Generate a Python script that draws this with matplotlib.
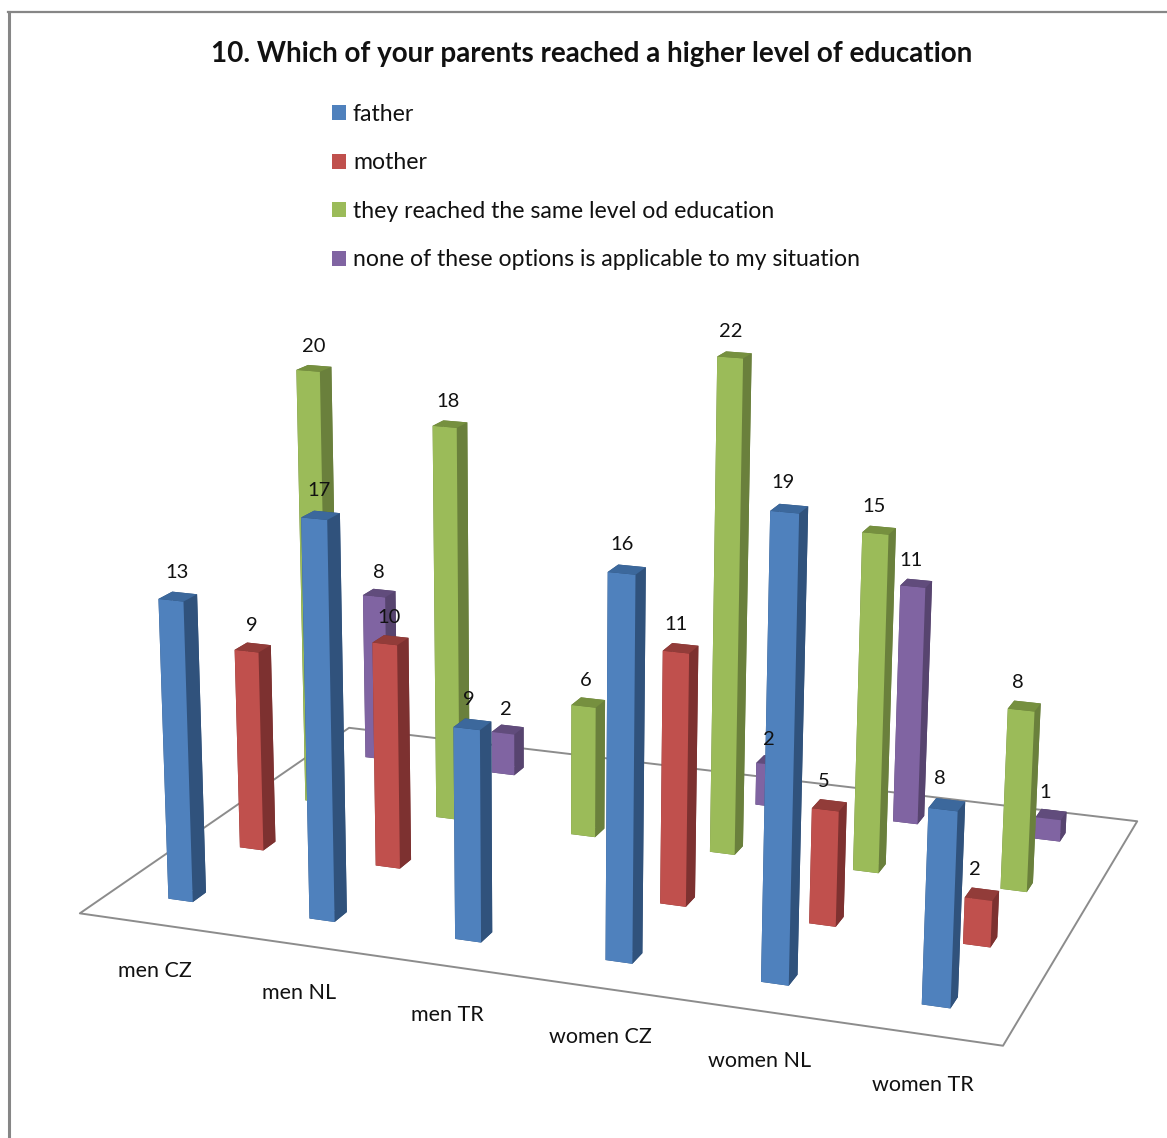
import matplotlib
matplotlib.use("Agg")
import matplotlib.pyplot as plt
from matplotlib.lines import Line2D
from matplotlib.patches import Patch
from mpl_toolkits.mplot3d.art3d import Poly3DCollection
from mpl_toolkits.mplot3d import proj3d
import numpy as np

categories = ["men CZ", "men NL", "men TR", "women CZ", "women NL", "women TR"]
series_names = ["father", "mother", "they reached the same level od education",
                "none of these options is applicable to my situation"]
father = [13, 17, 9, 16, 19, 8]
mother = [9, 10, 0, 11, 5, 2]
same = [20, 18, 6, 22, 15, 8]
none = [8, 2, 0, 2, 11, 1]
title = "10. Which of your parents reached a higher level of education"

W, H = 1167, 1138
front_cols = ["#4F81BD", "#C0504D", "#9BBB59", "#8064A2"]
side_cols = ["#30527C", "#7D3130", "#6A803C", "#57446F"]
top_cols = ["#3C689C", "#923C39", "#76903F", "#614C7C"]

plt.rcParams["font.family"] = ["Lato", "DejaVu Sans"]
fig = plt.figure(figsize=(W / 100, H / 100), dpi=100, facecolor="white")

# chart-area border: left and top only
fig.add_artist(Line2D([9 / W, 9 / W], [0, 1 - 12 / H], color="#868686", lw=2.2))
fig.add_artist(Line2D([8 / W, 1], [1 - 12 / H, 1 - 12 / H], color="#868686", lw=1.6))

side = 1150
cx, cy = 618, 601
ax = fig.add_axes([(cx - side / 2) / W, 1 - (cy + side / 2) / H, side / W, side / H],
                  projection="3d", computed_zorder=False)
ax.set_proj_type("persp", focal_length=0.507)
ax.view_init(elev=15.2, azim=-70.7, roll=-0.45)
ax.set_box_aspect((0.866, 0.597, 0.557), zoom=1.07)
ax.set_xlim(0, 6, view_margin=0)
ax.set_ylim(0, 4, view_margin=0)
ax.set_zlim(0, 25, view_margin=0)
ax.set_axis_off()
ax.patch.set_alpha(0)
M = ax.get_proj()


def label(x, y, z, s, size):
    tx, ty, _ = proj3d.proj_transform(x, y, z, M)
    ax.text2D(tx, ty, s, transform=ax.transData, ha="center", va="center",
              fontsize=size, color="#111111", zorder=100)


# floor
floor = Poly3DCollection([[(0, 0, 0), (6, 0, 0), (6, 4, 0), (0, 4, 0)]],
                         facecolor="white", edgecolor="#8C8C8C", linewidth=1.4, zorder=1)
ax.add_collection3d(floor)

rows = [father, mother, same, none]
bw, bd = 0.175, 0.18
for j in range(3, -1, -1):
    for i, v in enumerate(rows[j]):
        if v == 0:
            continue
        cols = [side_cols[j], top_cols[j], front_cols[j], side_cols[j], side_cols[j], side_cols[j]]
        ax.bar3d(i + 0.5 - bw / 2, j + 0.5 - bd / 2, 0, bw, bd, v, color=cols, shade=False,
                 zorder=10 + (3 - j) * 10 + i)
        label(i * 0.99 + 0.5, j + 0.5, v + 1.0, str(v), 14.5)

for i, c in enumerate(categories):
    label(i * 0.96 + 0.91, -0.68, 0, c, 15.5)

fig.text(592 / W, 1 - 54 / H, title, ha="center", va="center", fontsize=20,
         fontweight="bold", color="#111111")

handles = [Patch(facecolor=c, edgecolor="none") for c in front_cols]
fig.legend(handles, series_names, loc="upper left", bbox_to_anchor=(332 / W, 1 - 104 / H),
           frameon=False, fontsize=16.6, labelspacing=1.19, handlelength=0.61, handleheight=0.61,
           handletextpad=0.3, borderpad=0, borderaxespad=0, labelcolor="#111111")

fig.savefig("out.png", dpi=100)
